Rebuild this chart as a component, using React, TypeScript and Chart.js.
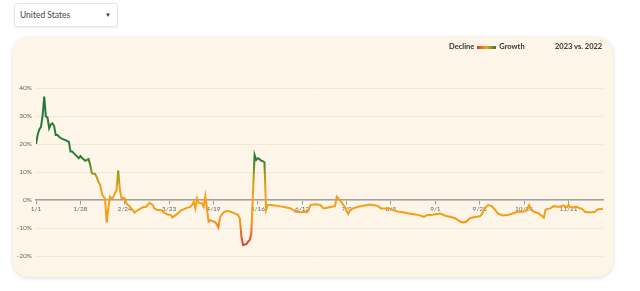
import React, { useEffect, useRef } from "react";
import { Chart, registerables } from "chart.js";

Chart.register(...registerables);

// Day of year (0 = Jan 1, 2023) and year-over-year change in percent
const days: number[] = [
  0, 1, 2, 3, 4, 5, 6, 7, 8, 9, 10, 11, 12, 13, 14, 16, 18, 19, 20, 21, 22, 24, 26, 27, 28, 30, 31, 32, 33, 34, 36, 37, 38, 39, 40, 41, 42, 43, 44, 45, 46, 47, 48, 49, 50, 51, 52, 53, 54, 55, 56, 58, 60, 62, 65, 67, 69, 71, 72, 74, 76, 78, 80, 82, 83, 85, 88, 91, 94, 95, 96, 97, 98, 99, 100, 101, 102, 103, 104, 105, 106, 107, 108, 109, 110, 111, 112, 113, 114, 116, 118, 121, 123, 124, 125, 126, 128, 129, 130, 131, 133, 134, 135, 136, 137, 138, 139, 140, 141, 143, 147, 151, 155, 158, 161, 163, 165, 166, 167, 170, 173, 175, 177, 180, 182, 183, 184, 186, 187, 188, 190, 191, 193, 196, 200, 203, 205, 208, 210, 213, 215, 218, 221, 224, 227, 230, 233, 236, 238, 240, 243, 246, 249, 252, 255, 258, 260, 262, 264, 267, 270, 271, 273, 275, 277, 279, 281, 284, 287, 290, 293, 296, 298, 299, 300, 301, 303, 306, 307, 309, 310, 311, 313, 315, 317, 319, 321, 323, 324, 325, 327, 329, 331, 332, 334, 336, 338, 340, 342, 345,
];
const changes: number[] = [
  20, 23.2, 25.2, 26, 30, 36.9, 29.8, 29.5, 25.6, 27, 27.4, 26.5, 23.2, 23.2, 22.6, 21.8, 21.4, 21, 20.8, 17.3, 17.3, 16.1, 14.9, 15.7, 15, 14, 14.3, 14.6, 12.5, 9.5, 9.3, 8.1, 6.5, 5.4, 2.4, 1.2, 0.6, -8, -3, 1.2, 0.6, 0.9, 2.4, 3.6, 10.5, 4, 0.6, 0.8, 0.6, -1.2, -1.8, -3, -4.5, -3.6, -2.6, -2.4, -1, -1.8, -3, -3.6, -3.6, -4.5, -5.2, -5.4, -6.2, -5.4, -3.8, -3, -2.4, -1.8, -0.6, -3, 0.6, -1, -1.2, -1.2, -2.4, 1.4, -3, -7.7, -7.2, -7.4, -7.7, -7.9, -8.7, -9.8, -6.3, -5.2, -4.5, -3.9, -4.1, -4.8, -5.4, -6.5, -13.1, -16.1, -15.8, -14.9, -14.3, -12, 16.1, 14.3, 14.9, 14.6, 14, 13.9, 13.5, -3.6, -1.8, -1.8, -2.1, -2.5, -3, -4.2, -4.4, -4.2, -4.4, -3.3, -1.8, -1.5, -1.8, -3, -2.8, -2.4, -2.1, 1.2, 0.6, -0.8, -1.8, -2.6, -5, -3.8, -3, -2.4, -2, -1.6, -1.8, -2.1, -3, -3, -3, -3.8, -4.2, -4.5, -4.8, -5.1, -5.4, -6, -5.4, -5.4, -5.1, -4.8, -5.6, -6, -6.5, -7.7, -8, -7.7, -6.5, -6.1, -5.8, -5.4, -3, -1.8, -2.1, -3.3, -4.8, -5.5, -5.4, -4.8, -4.2, -4.2, -4, -3, -1.8, -3.3, -4.2, -4.8, -5.4, -6.3, -3.6, -3.2, -3, -2.2, -2.4, -2.4, -1.9, -2.6, -1.8, -2.6, -2.6, -2.4, -3, -3, -4.2, -4.4, -4.4, -4.2, -3.3, -3.1,
];

const xTickDays: number[] = [0, 27, 54, 81, 108, 135, 162, 189, 216, 243, 270, 297, 324];
const xTickLabels: string[] = ["1/1", "1/28", "2/24", "3/23", "4/19", "5/16", "6/12", "7/9", "8/5", "9/1", "9/28", "10/25", "11/21"];
const yTicks: number[] = [-20, -10, 0, 10, 20, 30, 40];

const FONT = "Lato, 'Open Sans', sans-serif";

function lineGradient(ctx: any) {
  const chart = ctx.chart;
  const area = chart.chartArea;
  const y = chart.scales && chart.scales.y;
  if (!area || !y) return "#f5a01a";
  const top = y.getPixelForValue(40);
  const bottom = y.getPixelForValue(-20);
  const g = chart.ctx.createLinearGradient(0, top, 0, bottom);
  const stops: [number, string][] = [
    [40, "#1f7a3c"],
    [15, "#2a7d38"],
    [12, "#5e8a2a"],
    [9, "#a89a1c"],
    [5, "#e3a114"],
    [1, "#f6a11a"],
    [-7, "#f59a16"],
    [-10, "#ef7c1e"],
    [-13, "#e85a28"],
    [-16, "#e23c2a"],
    [-20, "#d8302a"],
  ];
  stops.forEach(([v, c]) => g.addColorStop((40 - v) / 60, c));
  return g;
}

export default function App() {
  const canvasRef = useRef<HTMLCanvasElement>(null);

  useEffect(() => {
    if (!canvasRef.current) return;
    const chart = new Chart(canvasRef.current, {
      type: "line",
      data: {
        datasets: [
          {
            data: days.map((d, i) => ({ x: d, y: changes[i] })),
            borderColor: lineGradient,
            borderWidth: 2,
            pointRadius: 0,
            tension: 0,
            fill: false,
          },
        ],
      },
      options: {
        animation: false,
        responsive: false,
        maintainAspectRatio: false,
        layout: { padding: { left: 0, right: 10, top: 51, bottom: 21 } },
        plugins: { legend: { display: false }, tooltip: { enabled: false } },
        scales: {
          x: {
            type: "linear",
            position: { y: 0 },
            min: 0,
            max: 345,
            afterBuildTicks: (scale: any) => {
              scale.ticks = xTickDays.map((v) => ({ value: v }));
            },
            grid: {
              drawOnChartArea: false,
              drawTicks: true,
              tickLength: 4,
              color: "#9a9a9a",
            },
            border: { display: true, color: "#a0a0a0", width: 1.5 },
            ticks: {
              autoSkip: false,
              maxRotation: 0,
              padding: 1,
              color: "#666",
              font: { family: FONT, size: 6.5 },
              callback: (v: any) => {
                const i = xTickDays.indexOf(Number(v));
                return i >= 0 ? xTickLabels[i] : "";
              },
            },
          },
          y: {
            type: "linear",
            min: -20,
            max: 40,
            afterBuildTicks: (scale: any) => {
              scale.ticks = yTicks.map((v) => ({ value: v }));
            },
            afterFit: (scale: any) => {
              scale.width = 23;
            },
            grid: { drawTicks: false, color: "#f2e8d6", lineWidth: 1 },
            border: { display: false },
            ticks: {
              padding: 4,
              color: "#666",
              font: { family: FONT, size: 6.5 },
              callback: (v: any) => `${v}%`,
            },
          },
        },
      },
    });
    return () => chart.destroy();
  }, []);

  return (
    <div
      style={{
        position: "fixed",
        left: 0,
        top: 0,
        width: 640,
        height: 291,
        background: "#ffffff",
        fontFamily: FONT,
        overflow: "hidden",
      }}
    >
      <div
        style={{
          position: "absolute",
          left: 14,
          top: 3,
          width: 104,
          height: 24,
          boxSizing: "border-box",
          background: "#fff",
          border: "1px solid #e8e8e8",
          borderRadius: 3,
          boxShadow: "0 1px 2px rgba(0,0,0,0.08)",
        }}
      >
        <span
          style={{
            position: "absolute",
            left: 5,
            top: 5,
            fontSize: 8.5,
            color: "#444",
            lineHeight: "12px",
          }}
        >
          United States
        </span>
        <span
          style={{
            position: "absolute",
            left: 90,
            top: 6,
            fontSize: 6,
            color: "#333",
            lineHeight: "10px",
          }}
        >
          ▼
        </span>
      </div>
      <div
        style={{
          position: "absolute",
          left: 13,
          top: 37,
          width: 600,
          height: 240,
          background: "#fdf6e8",
          borderRadius: 16,
          boxShadow: "0 1px 4px rgba(0,0,0,0.14)",
        }}
      >
        <canvas ref={canvasRef} width={600} height={240} style={{ position: "absolute", left: 0, top: 0 }} />
        <div
          style={{
            position: "absolute",
            left: 436,
            top: 5,
            fontSize: 7.5,
            fontWeight: 700,
            color: "#333",
            lineHeight: "10px",
            display: "flex",
            alignItems: "center",
            whiteSpace: "nowrap",
          }}
        >
          <span>Decline</span>
          <span
            style={{
              display: "inline-block",
              width: 19,
              height: 3,
              margin: "0 3px",
              background: "linear-gradient(to right, #e23c2a, #f6a11a 50%, #2a7d38)",
            }}
          />
          <span>Growth</span>
        </div>
        <div
          style={{
            position: "absolute",
            left: 542,
            top: 5,
            fontSize: 7.5,
            fontWeight: 700,
            color: "#333",
            lineHeight: "10px",
            whiteSpace: "nowrap",
          }}
        >
          2023 vs. 2022
        </div>
      </div>
    </div>
  );
}
